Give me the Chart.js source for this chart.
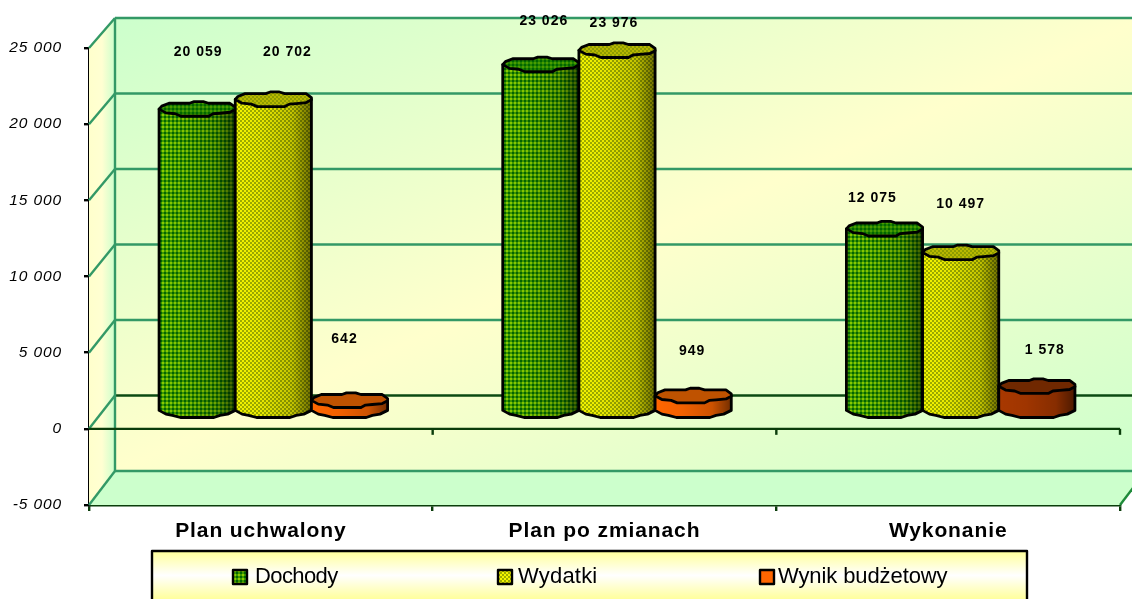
<!DOCTYPE html>
<html lang="pl"><head><meta charset="utf-8">
<style>html,body{margin:0;padding:0;background:#fff;overflow:hidden}canvas{display:block}</style>
<script src="https://cdn.jsdelivr.net/npm/chart.js@4/dist/chart.umd.min.js"></script>
</head><body><canvas id="c" width="1132" height="599"></canvas>
<script>
const categories = ['Plan uchwalony', 'Plan po zmianach', 'Wykonanie'];
const dochody = [20059, 23026, 12075];
const wydatki = [20702, 23976, 10497];
const wynik = [642, 949, 1578];
const seriesNames = ['Dochody', 'Wydatki', 'Wynik budżetowy'];

const FONT = '"Liberation Sans", Arial, sans-serif';
const DEPTH_X = 26, BAR_SHIFT = 12.5, R_Y = 7.5;
const labelShift = [
  [[1, -57], [14, -47], [-5, -61]],
  [[3, -43], [-3, -27], [-1, -45]],
  [[-12, -31], [0, -48], [8, -36]]
];
const legendSwatchX = [233, 498, 760];
const legendTextX = [255, 518, 778];
const legendSpacing = ['-.6px', '.2px', '-.1px'];
const fmt = v => String(Math.abs(v)).replace(/\B(?=(\d{3})+$)/g, ' ');
const signed = v => (v < 0 ? '-' : '') + fmt(v);

const cv = document.getElementById('c');
const ctx0 = cv.getContext('2d');
function tile(n, paint) {
  const t = document.createElement('canvas'); t.width = t.height = n;
  paint(t.getContext('2d')); return ctx0.createPattern(t, 'repeat');
}
const plaid = tile(4, g => {
  g.fillStyle = 'rgba(0,110,0,.55)'; g.fillRect(0, 0, 4, 2); g.fillRect(0, 0, 2, 4);
  g.fillStyle = 'rgba(0,100,0,.88)'; g.fillRect(0, 0, 2, 2);
});
const check = tile(4, g => {
  g.fillStyle = 'rgba(125,145,0,.72)'; g.fillRect(0, 0, 2, 2); g.fillRect(2, 2, 2, 2);
});
const skins = [
  { base: '#88cc00', top: '#4a9c00', pat: plaid },
  { base: '#f4f400', top: '#b8b800', pat: check },
  { base: '#ff6600', top: '#bf5200', pat: null },
  { base: '#a83800', top: '#702800', pat: null }
];
const topUpper = [[-1,0],[-.93,-.4],[-.74,-.78],[-.2,-.78],[-.08,-1],[.16,-1],[.3,-.78],[.86,-.78],[1,-.25],[1,.05]];
const topLower = [[.86,.42],[.6,.55],[.42,.62],[.3,.95],[-.42,.95],[-.58,.62],[-.82,.5]];
const botLower = [[1,.05],[.8,.55],[.6,.72],[.44,1],[-.44,1],[-.65,.72],[-.82,.55],[-1,.05]];

function drawCylinder(ctx, cx, top, base, w, skin) {
  const hw = w / 2;
  const P = (p, y) => [cx + p[0] * hw, y + p[1] * R_Y];
  const side = () => {
    ctx.beginPath();
    ctx.moveTo(cx - hw, top);
    ctx.lineTo(cx + hw, top);
    ctx.lineTo(cx + hw, base);
    botLower.forEach(p => ctx.lineTo(...P(p, base)));
    ctx.closePath();
  };
  const cap = () => {
    ctx.beginPath();
    topUpper.concat(topLower).forEach((p, i) => {
      const q = P(p, top); i ? ctx.lineTo(...q) : ctx.moveTo(...q);
    });
    ctx.closePath();
  };
  side();
  ctx.fillStyle = skin.base; ctx.fill();
  if (skin.pat) { ctx.fillStyle = skin.pat; ctx.fill(); }
  const g = ctx.createLinearGradient(cx - hw, 0, cx + hw, 0);
  g.addColorStop(0, 'rgba(0,0,0,0)');
  g.addColorStop(.35, 'rgba(0,0,0,.05)');
  g.addColorStop(.75, 'rgba(0,0,0,.2)');
  g.addColorStop(1, 'rgba(0,0,0,.55)');
  ctx.fillStyle = g; ctx.fill();
  ctx.lineWidth = 2.8; ctx.lineJoin = 'round'; ctx.strokeStyle = '#000'; ctx.stroke();
  cap();
  ctx.fillStyle = skin.top; ctx.fill();
  if (skin.pat) { ctx.fillStyle = skin.pat; ctx.fill(); }
  ctx.stroke();
}

const scene = {
  id: 'scene',
  beforeDraw(chart) { chart.ctx.letterSpacing = '.9px'; },
  beforeDatasetsDraw(chart) {
    const { ctx, scales: { y, yBack, x } } = chart;
    const L = x.left, R = x.right, values = y.ticks.map(t => t.value);
    const fy = v => y.getPixelForValue(v), by = v => yBack.getPixelForValue(v);
    const tv = values[values.length - 1], bv = values[0];
    const bx = L + DEPTH_X, rx = R + DEPTH_X;
    ctx.save();
    const W = rx - bx, H = by(bv) - by(tv), cx = bx + W / 2, cy = by(tv) + H / 2;
    const k = W * H / (W * W + H * H);
    let g = ctx.createLinearGradient(cx - H * k, cy - W * k, cx + H * k, cy + W * k);
    g.addColorStop(0, '#ccffcc'); g.addColorStop(.5, '#ffffcc'); g.addColorStop(1, '#ccffcc');
    ctx.fillStyle = g; ctx.fillRect(bx, by(tv), W, H);
    g = ctx.createLinearGradient(L, 0, bx, 0);
    g.addColorStop(0, '#ffffcc'); g.addColorStop(.5, '#ffffd2'); g.addColorStop(1, '#ccffcc');
    ctx.fillStyle = g;
    ctx.beginPath(); ctx.moveTo(L, fy(tv)); ctx.lineTo(bx, by(tv)); ctx.lineTo(bx, by(bv)); ctx.lineTo(L, fy(bv)); ctx.closePath(); ctx.fill();
    ctx.fillStyle = '#ccffcc';
    ctx.beginPath(); ctx.moveTo(L, fy(bv)); ctx.lineTo(bx, by(bv)); ctx.lineTo(rx, by(bv)); ctx.lineTo(R, fy(bv)); ctx.closePath(); ctx.fill();
    ctx.strokeStyle = '#339966'; ctx.lineWidth = 2.4;
    values.forEach(v => {
      ctx.strokeStyle = v === 0 ? '#0b4a12' : '#339966';
      ctx.beginPath(); ctx.moveTo(bx, by(v)); ctx.lineTo(rx, by(v)); ctx.stroke();
      ctx.strokeStyle = '#339966';
      ctx.beginPath(); ctx.moveTo(L, fy(v)); ctx.lineTo(bx, by(v)); ctx.stroke();
    });
    ctx.beginPath(); ctx.moveTo(bx, by(tv)); ctx.lineTo(bx, by(bv)); ctx.stroke();
    ctx.strokeStyle = '#1f8a3a';
    ctx.beginPath(); ctx.moveTo(R, fy(bv)); ctx.lineTo(rx, by(bv)); ctx.stroke();
    ctx.strokeStyle = '#0b3d0b'; ctx.lineWidth = 2.4;
    ctx.beginPath(); ctx.moveTo(L, fy(0)); ctx.lineTo(R, fy(0)); ctx.stroke();
    [1, 2, 3].forEach(i => {
      const tx = L + (R - L) * i / categories.length;
      ctx.beginPath(); ctx.moveTo(tx, fy(0)); ctx.lineTo(tx, fy(0) + 6); ctx.stroke();
    });
    ctx.restore();
  },
  beforeDatasetDraw() { return false; },
  afterDatasetsDraw(chart) {
    const { ctx } = chart;
    ctx.save();
    chart.data.datasets.forEach((ds, d) => {
      chart.getDatasetMeta(d).data.forEach((el, i) => {
        const skin = ds.data[i] > 1500 && d === 2 ? skins[3] : skins[d];
        drawCylinder(ctx, el.x + BAR_SHIFT, el.y, el.base, el.width, skin);
      });
    });
    ctx.fillStyle = '#000'; ctx.font = 'bold 14px ' + FONT;
    ctx.textAlign = 'center'; ctx.textBaseline = 'middle';
    ctx.letterSpacing = '1px';
    chart.data.datasets.forEach((ds, d) => {
      chart.getDatasetMeta(d).data.forEach((el, i) => {
        const s = labelShift[i][d];
        ctx.fillText(signed(ds.data[i]), el.x + BAR_SHIFT + s[0], el.y + s[1]);
      });
    });
    const lx = 152, lr = 1027, lt = 551, lb = 612;
    const g = ctx.createLinearGradient(0, lt, 0, lb);
    g.addColorStop(0, '#ffff99'); g.addColorStop(.4, '#ffffff'); g.addColorStop(.8, '#ffff99');
    ctx.fillStyle = g; ctx.fillRect(lx, lt, lr - lx, lb - lt);
    ctx.strokeStyle = '#000'; ctx.lineWidth = 2.4; ctx.strokeRect(lx, lt, lr - lx, lb - lt);
    ctx.textAlign = 'left'; ctx.font = '22px ' + FONT;
    seriesNames.forEach((n, i) => {
      const x = legendSwatchX[i], y = 570, s = 14;
      ctx.fillStyle = skins[i].base; ctx.fillRect(x, y, s, s);
      if (skins[i].pat) { ctx.fillStyle = skins[i].pat; ctx.fillRect(x, y, s, s); }
      ctx.lineWidth = 2.4; ctx.strokeStyle = '#000'; ctx.strokeRect(x, y, s, s);
      ctx.fillStyle = '#000';
      ctx.letterSpacing = legendSpacing[i];
      ctx.fillText(n, legendTextX[i], y + 7);
    });
    ctx.restore();
  }
};

new Chart(cv, {
  type: 'bar',
  data: {
    labels: categories,
    datasets: [
      { label: seriesNames[0], data: dochody, yAxisID: 'yBar', backgroundColor: skins[0].base },
      { label: seriesNames[1], data: wydatki, yAxisID: 'yBar', backgroundColor: skins[1].base },
      { label: seriesNames[2], data: wynik, yAxisID: 'yBar', backgroundColor: skins[2].base }
    ]
  },
  options: {
    responsive: false, animation: false,
    layout: { padding: { top: 48, right: 12, left: 0, bottom: 0 } },
    plugins: { legend: { display: false }, tooltip: { enabled: false } },
    datasets: { bar: { categoryPercentage: 0.665, barPercentage: 1, borderWidth: 0 } },
    scales: {
      x: {
        afterFit(s) { s.height = 94; },
        border: { color: '#0b3d0b', width: 2.4 },
        grid: { drawOnChartArea: false, offset: true, color: '#0b3d0b', lineWidth: 2.4, tickLength: 6 },
        ticks: { color: '#000', font: { family: FONT, size: 21, weight: 'bold' }, padding: 8, maxRotation: 0 }
      },
      y: {
        min: -5000, max: 25000,
        afterFit(s) { s.width = 89; },
        border: { color: '#000', width: 2.4 },
        grid: { drawOnChartArea: false, color: '#000', lineWidth: 2.4, tickLength: 5 },
        ticks: { stepSize: 5000, padding: 22, color: '#000', font: { family: FONT, size: 15.5, style: 'italic' }, callback: v => signed(v) }
      },
      yBack: { display: false, min: -7252, max: 23013 },
      yBar: { display: false, min: -6333, max: 24133 }
    }
  },
  plugins: [scene]
});
</script></body></html>
